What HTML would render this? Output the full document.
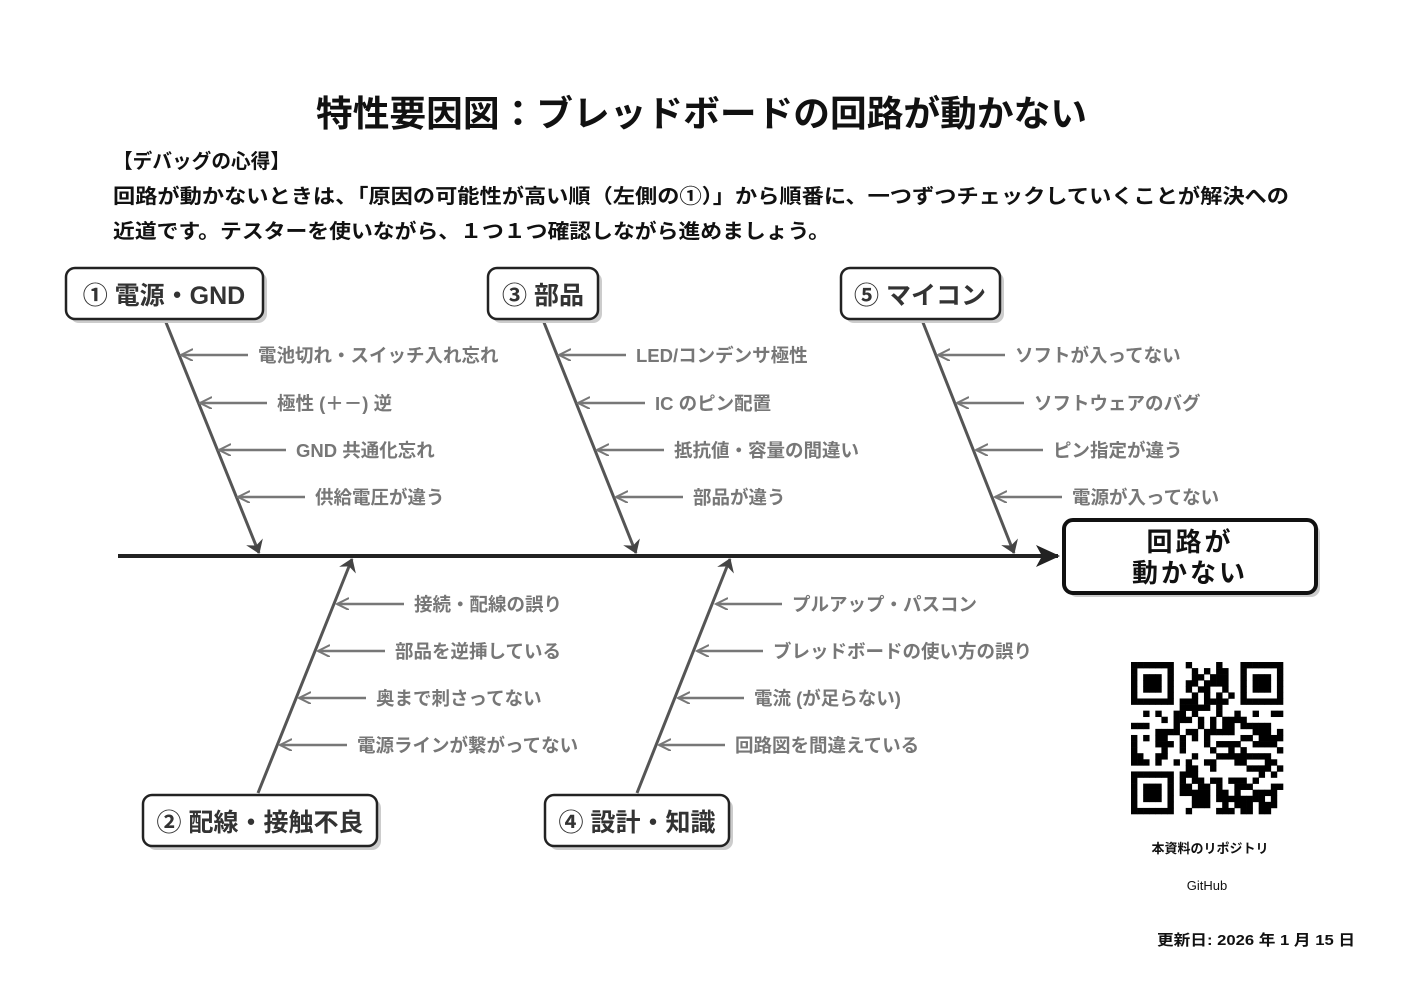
<!DOCTYPE html>
<html><head><meta charset="utf-8"><style>
html,body{margin:0;padding:0;background:#fff;}
svg{display:block;font-family:"Liberation Sans","Noto Sans CJK JP",sans-serif;}
.lab{fill:#777;font-size:18.5px;font-weight:bold;}
.box{fill:#fff;stroke:#222;stroke-width:2.5;}
.bt{fill:#333;font-size:25px;font-weight:bold;}
</style></head><body>
<svg id="s" width="1403" height="992" viewBox="0 0 1403 992" xmlns="http://www.w3.org/2000/svg">
<defs>
<marker id="ag" markerWidth="14" markerHeight="14" refX="12" refY="6" orient="auto" markerUnits="userSpaceOnUse"><path d="M0,0 L12,6 L0,12" fill="none" stroke="#777" stroke-width="2"/></marker>
<marker id="ad" markerWidth="14" markerHeight="18" refX="12" refY="9" orient="auto" markerUnits="userSpaceOnUse"><path d="M0,0 L13,9 L0,18 L4,9 Z" fill="#444"/></marker>
<marker id="ak" markerWidth="24" markerHeight="22" refX="22" refY="11" orient="auto" markerUnits="userSpaceOnUse"><path d="M0,0 L24,11 L0,22 L6,11 Z" fill="#222"/></marker>
</defs>
<text x="316" y="126" textLength="771" lengthAdjust="spacingAndGlyphs" font-size="36" font-weight="bold" fill="#111">特性要因図：ブレッドボードの回路が動かない</text>
<g font-size="20" font-weight="bold" fill="#111">
<text x="113" y="168" textLength="177" lengthAdjust="spacingAndGlyphs">【デバッグの心得】</text>
<text x="113" y="203" textLength="1176" lengthAdjust="spacingAndGlyphs">回路が動かないときは、「原因の可能性が高い順（左側の①）」から順番に、一つずつチェックしていくことが解決への</text>
<text x="113" y="238" textLength="717" lengthAdjust="spacingAndGlyphs">近道です。テスターを使いながら、１つ１つ確認しながら進めましょう。</text>
</g>
<line x1="118" y1="556" x2="1058" y2="556" stroke="#222" stroke-width="4" marker-end="url(#ak)"/>
<g stroke="#555" stroke-width="3">
<line x1="165" y1="320" x2="259" y2="553" marker-end="url(#ad)"/>
<line x1="543" y1="320" x2="636" y2="553" marker-end="url(#ad)"/>
<line x1="922" y1="320" x2="1014" y2="553" marker-end="url(#ad)"/>
<line x1="258" y1="793" x2="352" y2="559" marker-end="url(#ad)"/>
<line x1="637" y1="793" x2="730" y2="559" marker-end="url(#ad)"/>
</g>
<g id="subs" stroke="#777" stroke-width="2.5"></g>
<g id="labs"></g>
<g>
<rect x="70" y="272" width="197" height="51" rx="9" fill="#ccc"/>
<rect x="66" y="268" width="197" height="51" rx="9" class="box"/>
<text x="164" y="304" text-anchor="middle" class="bt">① 電源・GND</text>
<rect x="492" y="272" width="110" height="51" rx="9" fill="#ccc"/>
<rect x="488" y="268" width="110" height="51" rx="9" class="box"/>
<text x="543" y="304" text-anchor="middle" class="bt">③ 部品</text>
<rect x="845" y="272" width="159" height="51" rx="9" fill="#ccc"/>
<rect x="841" y="268" width="159" height="51" rx="9" class="box"/>
<text x="920" y="304" text-anchor="middle" class="bt">⑤ マイコン</text>
<rect x="147" y="799" width="234" height="51" rx="9" fill="#ccc"/>
<rect x="143" y="795" width="234" height="51" rx="9" class="box"/>
<text x="260" y="831" text-anchor="middle" class="bt">② 配線・接触不良</text>
<rect x="549" y="799" width="184" height="51" rx="9" fill="#ccc"/>
<rect x="545" y="795" width="184" height="51" rx="9" class="box"/>
<text x="637" y="831" text-anchor="middle" class="bt">④ 設計・知識</text>
<rect x="1068" y="524" width="252" height="73" rx="9" fill="#ccc"/>
<rect x="1064" y="520" width="252" height="73" rx="9" fill="#fff" stroke="#111" stroke-width="4"/>
<text x="1190" y="551" text-anchor="middle" font-size="26" font-weight="bold" fill="#111" letter-spacing="3">回路が</text>
<text x="1190" y="582" text-anchor="middle" font-size="26" font-weight="bold" fill="#111" letter-spacing="3">動かない</text>
</g>
<g id="qr"></g>
<text x="1210" y="853" text-anchor="middle" font-size="13" font-weight="bold" fill="#111">本資料のリポジトリ</text>
<text x="1207" y="890" text-anchor="middle" font-size="13" fill="#111">GitHub</text>
<text x="1157" y="945" textLength="198" lengthAdjust="spacingAndGlyphs" font-size="15" font-weight="bold" fill="#111">更新日: 2026 年 1 月 15 日</text>
</svg>
<script>
var NS="http://www.w3.org/2000/svg";
function el(t,a,p,txt){var e=document.createElementNS(NS,t);for(var k in a)e.setAttribute(k,a[k]);if(txt)e.textContent=txt;document.getElementById(p).appendChild(e);}
var data=[
[[355,179,258,"電池切れ・スイッチ入れ忘れ"],[403,198,277,"極性 (＋－) 逆"],[450,217,296,"GND 共通化忘れ"],[497,236,315,"供給電圧が違う"]],
[[355,557,636,"LED/コンデンサ極性"],[403,576,655,"IC のピン配置"],[450,595,674,"抵抗値・容量の間違い"],[497,614,693,"部品が違う"]],
[[355,936,1015,"ソフトが入ってない"],[403,955,1034,"ソフトウェアのバグ"],[450,974,1053,"ピン指定が違う"],[497,993,1072,"電源が入ってない"]],
[[604,335,414,"接続・配線の誤り"],[651,316,395,"部品を逆挿している"],[698,297,376,"奥まで刺さってない"],[745,278,357,"電源ラインが繋がってない"]],
[[604,714,792,"プルアップ・パスコン"],[651,695,773,"ブレッドボードの使い方の誤り"],[698,676,754,"電流 (が足らない)"],[745,657,735,"回路図を間違えている"]]];
data.forEach(function(g){g.forEach(function(d){
el("line",{x1:d[2]-10,y1:d[0],x2:d[1]+2,y2:d[0],"marker-end":"url(#ag)"},"subs");
el("text",{x:d[2],y:d[0]+7,"class":"lab"},"labs",d[3]);});});
var N=25,s=6.08,x0=1131,y0=662,seed=12345;
function rnd(){seed=(seed*1103515245+12345)&0x7fffffff;return seed/0x7fffffff;}
function fin(r,c){return (r<8&&c<8)||(r<8&&c>=N-8)||(r>=N-8&&c<8);}
for(var r=0;r<N;r++)for(var c=0;c<N;c++){
var on;
if(fin(r,c)){var rr=r<8?r:r-(N-7),cc=c<8?c:c-(N-7);if(rr<0||cc<0||rr>6||cc>6)on=false;else{var m=Math.max(Math.abs(rr-3),Math.abs(cc-3));on=(m!=2);}}
else on=rnd()<0.5;
if(on)el("rect",{x:x0+c*s,y:y0+r*s,width:s+0.3,height:s+0.3,fill:"#000"},"qr");}
</script>
</body></html>
